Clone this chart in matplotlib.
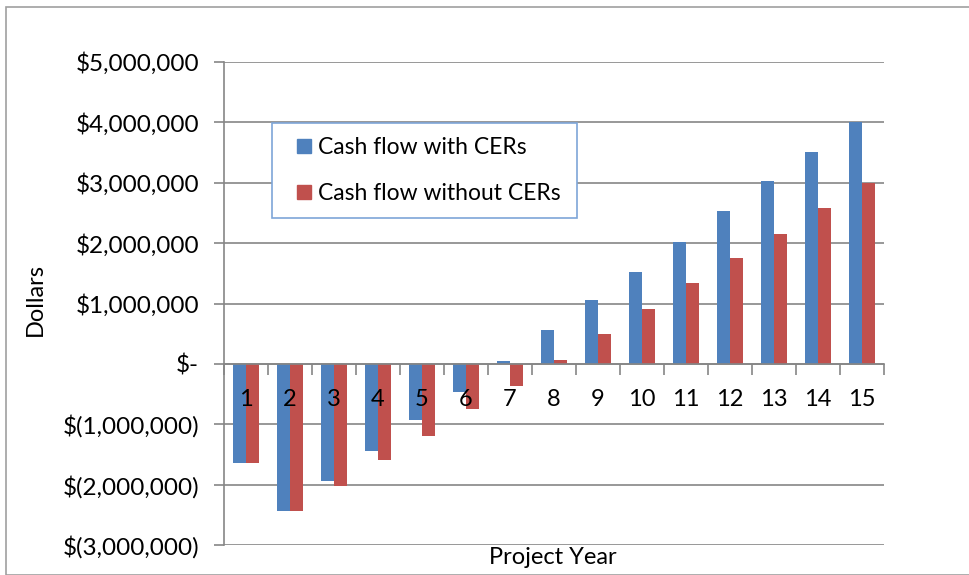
import numpy as np
import matplotlib
matplotlib.use('Agg')
import matplotlib.pyplot as plt
from matplotlib.ticker import FuncFormatter, MultipleLocator
from matplotlib.patches import Rectangle
from matplotlib.lines import Line2D

plt.rcParams['font.family'] = ['Lato', 'DejaVu Sans']

years = list(range(1, 16))
with_cers = [-1.65e6, -2.44e6, -1.94e6, -1.45e6, -0.93e6, -0.47e6, 0.04e6, 0.556e6,
             1.05e6, 1.53e6, 2.025e6, 2.54e6, 3.035e6, 3.515e6, 4.0e6]
without_cers = [-1.65e6, -2.44e6, -2.03e6, -1.60e6, -1.19e6, -0.75e6, -0.36e6, 0.07e6,
                0.50e6, 0.915e6, 1.346e6, 1.76e6, 2.157e6, 2.59e6, 3.0e6]
series_names = ['Cash flow with CERs', 'Cash flow without CERs']

BLUE = '#4F81BD'
RED = '#C0504D'
GRID = '#868686'
W, H = 969, 575


def dollars(v, pos):
    if abs(v) < 1:
        return '$-'
    if v < 0:
        return '$({:,.0f})'.format(-v)
    return '${:,.0f}'.format(v)


fig = plt.figure(figsize=(W / 100, H / 100), dpi=100)
# outer chart border
fig.patches.append(Rectangle((6 / W, 0), 1.0, 1 - 7 / H, transform=fig.transFigure,
                             fill=False, edgecolor='#A0A0A0', linewidth=1.2))

ax = fig.add_axes([224 / W, 1 - 545 / H, 660 / W, 483 / H])

x = np.arange(len(years))
w = 0.3
ax.bar(x - w / 2, with_cers, w, color=BLUE, zorder=2)
ax.bar(x + w / 2, without_cers, w, color=RED, zorder=2)

ax.set_xlim(-0.5, len(years) - 0.5)
ax.set_ylim(-3e6, 5e6)
ax.yaxis.set_major_locator(MultipleLocator(1e6))
ax.yaxis.set_major_formatter(FuncFormatter(dollars))
ax.yaxis.grid(True, color=GRID, linewidth=1.2)
# grid behind bars, category labels in front of them
ax.yaxis.set_zorder(0.5)
ax.xaxis.set_zorder(5)

for s in ['top', 'right']:
    ax.spines[s].set_visible(False)
ax.spines['left'].set_color(GRID)
ax.spines['left'].set_linewidth(1.2)
ax.spines['bottom'].set_position(('data', 0))
ax.spines['bottom'].set_color(GRID)
ax.spines['bottom'].set_linewidth(1.2)
ax.spines['bottom'].set_zorder(4)

ax.set_xticks(x)
ax.set_xticklabels([str(y) for y in years])
ax.set_xticks(np.arange(-0.5, len(years), 1), minor=True)
ax.tick_params(axis='x', which='major', length=0, pad=18, labelsize=17)
ax.tick_params(axis='x', which='minor', length=8, width=1.2, color=GRID, direction='out')
ax.tick_params(axis='y', length=7, width=1.2, color=GRID, pad=11, labelsize=17.5)

fig.text(35 / W, 1 - 300 / H, 'Dollars', fontsize=17, rotation=90, ha='center', va='center')
fig.text(553 / W, 1 - 558 / H, 'Project Year', fontsize=17, ha='center', va='center')

# legend: square markers, own frame box
handles = [Line2D([], [], linestyle='none', marker='s', markersize=9.5,
                  markerfacecolor=c, markeredgecolor=c) for c in (BLUE, RED)]
fig.patches.append(Rectangle((272 / W, 1 - 218 / H), 305 / W, 95 / H, transform=fig.transFigure,
                             facecolor='white', edgecolor='#7EA6D8', linewidth=1.2, zorder=5))
leg = fig.legend(handles, series_names, loc='center left',
                 bbox_to_anchor=(297 / W, 1 - 170.5 / H), fontsize=16.5, frameon=False,
                 handlelength=0.6, handletextpad=0.3, labelspacing=1.05, borderpad=0,
                 borderaxespad=0)
leg.set_zorder(6)

fig.savefig('out.png', dpi=100)
